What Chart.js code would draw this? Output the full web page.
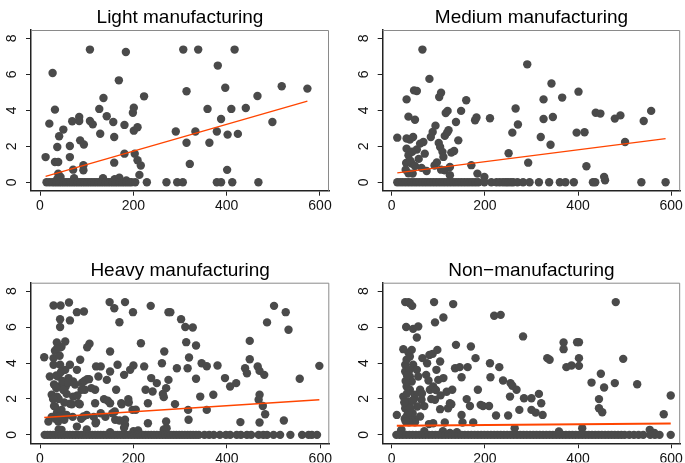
<!DOCTYPE html>
<html lang="en">
<head>
  <meta charset="UTF-8">
  <title>Scatter by sector</title>
  <script src="https://cdn.jsdelivr.net/npm/chart.js"></script>
  <style>
    body { margin: 0; background: #ffffff; }
    #wrap { position: relative; width: 685px; height: 463px; }
    canvas { position: absolute; left: 0; top: 0; }
  </style>
</head>
<body>
<div id="wrap">
  <canvas id="c1" width="685" height="463"></canvas>
  <canvas id="c2" width="685" height="463"></canvas>
  <canvas id="c3" width="685" height="463"></canvas>
  <canvas id="c4" width="685" height="463"></canvas>
</div>

<script>
  // tick labels
  const xTicks = [0, 200, 400, 600];
  const yTicks = [0, 2, 4, 6, 8];
  const titles = ['Light manufacturing', 'Medium manufacturing', 'Heavy manufacturing', 'Non\u2212manufacturing'];

  // points above zero, [x, y]
  const lightPts = [[12,1.4],[20,3.26],[27,6.08],[32,4.04],[32,1.13],[37,1.96],[39,1.13],[41,2.56],[39,0.48],[50,2.93],
    [64,2.02],[64,1.4],[69,3.39],[71,0.7],[84,3.63],[84,3.41],[86,2.33],[94,2.1],[93,0.95],[93,0.67],[107,7.38],[107,3.41],
    [113,3.22],[129,2.7],[127,4.08],[136,4.69],[143,3.67],[157,3.35],[159,2.52],[159,1.09],[169,5.67],[181,3.19],[181,1.59],
    [184,7.25],[199,3.87],[201,4.15],[201,2.87],[209,3.06],[203,1.59],[209,1.22],[216,0.93],[213,0.41],[223,4.78],[291,2.82],
    [307,7.38],[314,5.06],[314,2.2],[321,1.02],[333,2.82],[339,7.38],[359,4.08],[363,2.2],[381,6.49],[379,2.82],[388,3.52],
    [397,5.26],[402,2.65],[401,0.69],[410,4.08],[417,7.38],[424,2.69],[441,4.13],[466,4.8],[498,3.35],[518,5.34],[573,5.21],
    [37,0.18],[44,0.3],[73,0.22],[135,0.22],[160,0.17],[170,0.25],[185,0.1]];
  const lightZeroX = [14,20,26,31,36,41,46,51,56,61,66,71,76,81,86,91,96,101,106,111,116,121,126,131,136,141,146,151,156,
    161,166,171,176,181,186,191,196,204,229,271,294,306,379,388,412,468];
  const lightFit = [[12,0.33],[573,4.52]];

  const mediumPts = [[12,2.48],[32,4.61],[36,3.65],[32,2.43],[32,1.87],[31,1.07],[36,1.5],[39,2.37],[46,2.52],[43,1.04],
    [48,5.11],[54,5.08],[50,3.48],[45,0.48],[54,1.82],[61,2.15],[66,7.38],[68,2.24],[71,1.59],[75,0.63],[81,5.75],[84,2.52],
    [88,2.8],[94,3.15],[92,0.93],[101,2.19],[104,1.96],[102,4.74],[106,4.98],[109,1.69],[111,1.41],[114,2.58],[116,3.85],
    [120,3.97],[119,2.76],[122,2.89],[114,0.67],[125,0.85],[125,0.39],[128,1.65],[134,1.74],[138,3.35],[143,2.33],[149,3.97],
    [160,4.56],[171,0.95],[179,3.45],[182,3.6],[184,0.48],[199,0.3],[211,3.56],[251,1.61],[259,2.76],[266,4.1],[271,3.21],
    [291,6.56],[293,1.09],[320,2.52],[326,4.61],[326,3.52],[341,2.09],[343,5.49],[346,3.63],[366,4.71],[397,2.76],[401,5.04],
    [414,2.78],[418,0.89],[438,3.87],[448,3.82],[456,0.3],[458,0.11],[479,3.54],[491,3.72],[501,2.24],[541,3.41],[557,3.97],
    [40,1.2],[44,1.7],[50,0.9],[58,1.3],[64,0.8],[30,0.7],[36,0.5],[97,1.1],[106,0.7]];
  const mediumZeroX = [12,18,24,30,36,42,48,54,60,66,72,78,84,90,96,102,108,114,120,126,132,138,144,150,156,162,168,174,
    180,186,199,214,225,232,239,245,250,256,261,270,282,296,316,338,361,373,391,432,437,536,588];
  const mediumFit = [[12,0.52],[588,2.43]];

  const heavyPts = [[9,4.32],[29,7.2],[44,7.2],[62,7.37],[43,6.44],[43,6.0],[64,6.37],[79,6.83],[94,6.87],[149,7.39],
    [159,7.05],[170,6.27],[182,7.39],[199,6.83],[237,7.18],[275,6.83],[279,6.83],[302,6.44],[311,6.0],[327,5.98],[313,5.16],
    [334,4.97],[319,4.31],[316,3.71],[334,3.12],[346,3.99],[357,3.82],[380,3.86],[371,2.23],[343,2.13],[357,1.39],[317,1.39],
    [318,0.84],[293,3.71],[289,1.71],[266,4.64],[261,3.99],[270,2.6],[275,3.06],[263,2.28],[270,0.74],[271,0.37],[250,2.88],
    [238,3.16],[241,2.41],[226,2.51],[231,1.76],[231,0.65],[223,3.81],[216,5.1],[200,3.86],[193,3.62],[189,1.99],[198,1.39],
    [180,3.34],[174,1.76],[182,0.84],[182,0.56],[166,3.9],[163,2.51],[150,4.64],[150,3.53],[150,1.76],[161,0.84],[143,3.06],
    [137,1.99],[130,3.81],[125,3.25],[120,3.81],[118,1.76],[119,0.65],[118,2.51],[106,5.07],[101,4.88],[101,3.1],[96,2.51],
    [86,4.18],[93,1.02],[79,3.62],[71,2.97],[64,3.9],[61,3.16],[64,1.73],[54,5.2],[54,3.62],[55,2.69],[52,0.84],[57,2.28],
    [43,4.86],[36,5.14],[32,4.68],[29,4.27],[29,3.9],[43,3.9],[21,3.25],[25,2.23],[36,2.13],[32,1.58],[36,1.21],[39,3.25],
    [41,2.69],[39,0.74],[18,0.74],[46,0.28],[46,1.39],[57,1.11],[71,2.13],[82,1.76],[89,2.51],[100,1.11],[79,0.46],
    [396,3.16],[407,2.69],[420,2.88],[429,0.71],[439,3.71],[443,3.43],[449,5.23],[449,4.21],[466,3.81],[470,3.56],[470,2.23],
    [468,1.95],[470,0.69],[477,1.61],[480,3.34],[482,1.15],[486,6.26],[501,7.18],[526,6.83],[532,5.85],[522,0.8],[556,3.12],
    [598,3.84],[25,1.0],[30,2.8],[35,3.3],[40,2.0],[45,1.0],[48,3.0],[50,2.5],[33,0.9],[60,2.9],[70,1.0],[75,2.8],[80,2.2],
    [85,1.7],[90,2.9],[95,3.0],[105,3.1],[110,2.6],[115,1.0],[120,0.7],[140,1.0],[155,1.2],[160,1.3],[170,0.8],[175,1.7],
    [180,0.4],[190,1.8],[30,1.6],[38,1.0],[42,4.4],[46,4.9],[36,4.8],[28,2.0],[100,0.3],[200,0.2],[210,0.25],[265,0.3],
    [40,0.3],[150,0.15],[35,2.6],[45,3.5],[52,1.8],[68,1.7],[88,0.9],[130,1.2],[145,1.9],[205,1.4],[265,2.1]];
  const heavyZeroX = [10,16,22,28,34,40,46,52,58,64,70,76,82,88,94,100,106,112,118,124,130,136,142,148,154,160,166,172,
    178,184,190,196,202,208,214,220,226,232,238,244,250,256,262,268,274,280,286,292,298,304,310,316,322,328,334,340,352,
    362,372,385,398,407,421,430,443,452,468,478,486,500,514,536,561,575,582,593];
  const heavyFit = [[9,0.97],[598,1.95]];

  const nonPts = [[11,1.11],[29,7.39],[36,7.39],[39,7.33],[44,7.18],[31,6.0],[46,5.9],[57,6.03],[54,5.42],[25,4.77],
    [29,3.9],[32,4.18],[29,3.53],[36,4.58],[39,4.36],[43,4.73],[39,3.25],[43,2.97],[32,2.69],[25,2.13],[29,1.48],[32,1.02],
    [36,1.86],[39,2.51],[46,3.9],[50,2.23],[54,3.62],[57,3.25],[61,2.51],[64,1.95],[55,1.58],[61,1.02],[50,0.84],[66,4.27],
    [74,3.34],[76,3.99],[79,3.03],[82,2.51],[81,4.45],[88,4.51],[91,7.39],[93,6.26],[98,4.73],[96,3.62],[100,3.06],[89,2.69],
    [93,1.95],[89,0.65],[104,4.08],[104,1.43],[111,3.16],[111,6.53],[114,0.69],[121,1.48],[125,1.76],[130,2.51],[132,7.28],
    [138,5.01],[136,3.71],[146,3.77],[150,3.21],[150,1.11],[152,0.69],[163,3.77],[161,1.99],[168,1.61],[170,4.92],[175,0.69],
    [180,4.27],[185,2.51],[191,1.67],[196,1.61],[209,1.61],[211,3.99],[212,3.21],[220,6.63],[234,6.68],[224,1.08],[231,3.77],
    [239,3.03],[250,1.08],[254,2.13],[255,2.88],[259,2.73],[268,2.51],[274,1.39],[282,5.48],[284,2.04],[300,2.04],[300,1.39],
    [309,1.24],[316,2.28],[321,1.76],[324,1.11],[334,4.27],[339,4.18],[369,5.14],[369,4.77],[375,3.77],[386,3.86],[398,5.16],
    [402,5.16],[402,4.27],[402,3.84],[429,2.91],[445,1.99],[445,1.48],[449,3.4],[452,1.26],[456,2.64],[479,2.88],[481,7.39],
    [497,4.23],[527,2.82],[584,1.15],[599,2.19],[20,0.2],[50,0.7],[70,0.2],[80,0.6],[110,0.2],[125,0.1],[140,0.15],
    [264,0.37],[359,0.19],[409,0.37],[554,0.28],[564,0.1],[21,0.28],[45,1.2],[35,1.5],[48,2.0],[65,2.3],[70,1.6],[85,2.0],
    [95,2.5],[105,2.2],[118,2.4],[128,1.7],[30,3.0],[33,2.3],[27,1.8],[35,1.2],[40,1.5],[28,0.9],[42,0.8],[38,3.6],[33,3.3],
    [45,1.9],[37,0.7],[30,0.75]];
  const nonZeroX = [10,17,24,31,38,45,52,59,66,73,80,87,94,101,108,115,122,129,136,143,150,157,164,171,178,185,192,199,
    206,213,220,227,234,241,248,255,262,269,276,283,290,297,304,311,318,325,332,339,346,353,360,367,374,381,388,395,402,
    409,416,423,430,437,444,451,458,465,472,479,486,493,500,510,520,530,540,555,565,575,599];
  const nonFit = [[11,0.5],[599,0.63]];

  const panels = [
    { id: 'c1', pts: lightPts, zeros: lightZeroX, fit: lightFit, lw: 1.3, box: { l: 31, t: 30, r: 329, b: 190.7 } },
    { id: 'c2', pts: mediumPts, zeros: mediumZeroX, fit: mediumFit, lw: 1.3, box: { l: 382.7, t: 30, r: 680.7, b: 190.7 } },
    { id: 'c3', pts: heavyPts, zeros: heavyZeroX, fit: heavyFit, lw: 1.5, box: { l: 31, t: 282.7, r: 329.3, b: 443.3 } },
    { id: 'c4', pts: nonPts, zeros: nonZeroX, fit: nonFit, lw: 2, box: { l: 382.7, t: 282.7, r: 680.7, b: 443.3 } }
  ];

  const W = 685, H = 463, yAxisW = 31, xAxisH = 19;
  Chart.defaults.font.family = '"Liberation Sans", Arial, sans-serif';
  Chart.defaults.color = '#111';

  // title over the plot area + grey top/right frame
  const framePlugin = {
    id: 'frame',
    afterDraw(chart, args, opts) {
      const { ctx, chartArea: a } = chart;
      ctx.save();
      ctx.strokeStyle = '#8a8a8a';
      ctx.lineWidth = 1;
      ctx.beginPath();
      ctx.moveTo(a.left, a.top + 0.5);
      ctx.lineTo(a.right - 0.5, a.top + 0.5);
      ctx.lineTo(a.right - 0.5, a.bottom);
      ctx.stroke();
      ctx.fillStyle = '#000';
      ctx.font = '19px "Liberation Sans", Arial, sans-serif';
      ctx.textAlign = 'center';
      ctx.textBaseline = 'alphabetic';
      ctx.fillText(opts.text, (a.left + a.right) / 2, a.top - 7);
      ctx.restore();
    }
  };

  panels.forEach((p, i) => {
    const scatter = p.pts.map(([x, y]) => ({ x, y })).concat(p.zeros.map(x => ({ x, y: 0 })));
    new Chart(document.getElementById(p.id), {
      type: 'scatter',
      data: {
        datasets: [
          { type: 'line', data: p.fit.map(([x, y]) => ({ x, y })), borderColor: '#ff4500', borderWidth: p.lw,
            pointRadius: 0, fill: false, order: 0 },
          { data: scatter, backgroundColor: '#4a4a4a', borderWidth: 0, pointRadius: 4.2, order: 1 }
        ]
      },
      options: {
        responsive: false,
        animation: false,
        events: [],
        layout: { padding: { left: p.box.l - yAxisW, top: p.box.t, right: W - p.box.r, bottom: H - p.box.b - xAxisH } },
        plugins: { legend: { display: false }, tooltip: { enabled: false }, frame: { text: titles[i] } },
        scales: {
          x: {
            type: 'linear', min: -19.3, max: 619.3,
            afterBuildTicks: s => { s.ticks = xTicks.map(v => ({ value: v })); },
            afterFit: s => { s.height = xAxisH; },
            grid: { display: true, drawOnChartArea: false, drawTicks: true, tickLength: 5, tickColor: '#222' },
            border: { display: true, color: '#222', width: 1.5 },
            ticks: { font: { size: 14 }, padding: 2, maxRotation: 0, color: '#111' }
          },
          y: {
            type: 'linear', min: -0.47, max: 8.47,
            afterBuildTicks: s => { s.ticks = yTicks.map(v => ({ value: v })); },
            afterFit: s => { s.width = yAxisW; },
            grid: { display: true, drawOnChartArea: false, drawTicks: true, tickLength: 5, tickColor: '#222' },
            border: { display: true, color: '#222', width: 1.5 },
            ticks: { font: { size: 14 }, padding: 10, minRotation: 90, maxRotation: 90, crossAlign: 'center', color: '#111' }
          }
        }
      },
      plugins: [framePlugin]
    });
  });
</script>
</body>
</html>
